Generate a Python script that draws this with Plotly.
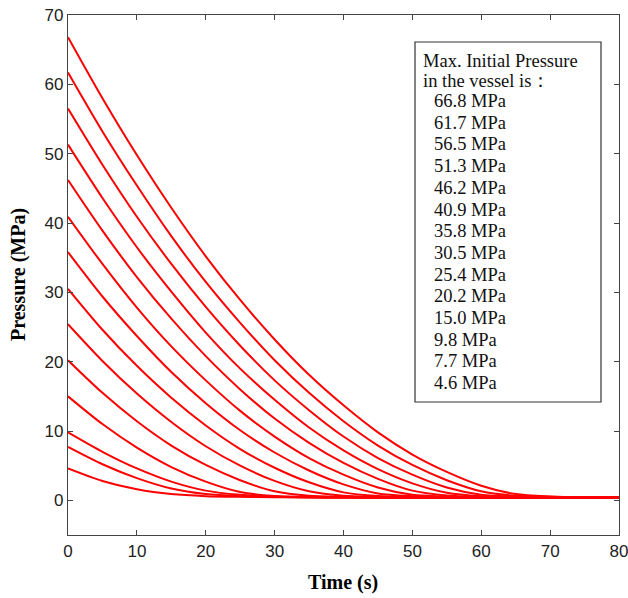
import plotly.graph_objects as go

# time samples (s)
time_s = [0, 5, 10, 15, 20, 25, 30, 35, 40, 45, 50, 55, 60, 65, 70, 75, 80]

# pressure curves (MPa)
p668 = [66.8, 58.0, 49.8, 42.2, 35.2, 28.9, 23.2, 18.1, 13.7, 9.8, 6.6, 4.1, 2.1, 0.9, 0.55, 0.42, 0.4]
p617 = [61.7, 53.2, 45.4, 38.1, 31.5, 25.6, 20.2, 15.5, 11.4, 7.9, 5.1, 2.9, 1.3, 0.65, 0.5, 0.42, 0.4]
p565 = [56.5, 48.4, 40.9, 34.1, 27.9, 22.3, 17.3, 13.0, 9.2, 6.1, 3.7, 1.85, 0.8, 0.52, 0.45, 0.4, 0.4]
p513 = [51.3, 43.6, 36.5, 30.1, 24.2, 19.0, 14.5, 10.5, 7.2, 4.5, 2.45, 1.1, 0.6, 0.47, 0.42, 0.4, 0.4]
p462 = [46.2, 38.9, 32.2, 26.2, 20.8, 16.0, 11.8, 8.3, 5.4, 3.1, 1.4, 0.7, 0.5, 0.43, 0.4, 0.4, 0.4]
p409 = [40.9, 34.1, 27.8, 22.2, 17.3, 12.9, 9.2, 6.1, 3.7, 1.85, 0.8, 0.55, 0.45, 0.4, 0.4, 0.4, 0.4]
p358 = [35.8, 29.4, 23.7, 18.5, 14.0, 10.1, 6.9, 4.3, 2.3, 1.0, 0.6, 0.47, 0.42, 0.4, 0.4, 0.4, 0.4]
p305 = [30.5, 24.6, 19.4, 14.8, 10.8, 7.4, 4.7, 2.6, 1.15, 0.62, 0.5, 0.43, 0.4, 0.4, 0.4, 0.4, 0.4]
p254 = [25.4, 20.1, 15.4, 11.3, 7.8, 5.0, 2.8, 1.3, 0.65, 0.5, 0.43, 0.4, 0.4, 0.4, 0.4, 0.4, 0.4]
p202 = [20.2, 15.5, 11.4, 7.9, 5.1, 2.9, 1.3, 0.65, 0.5, 0.43, 0.4, 0.4, 0.4, 0.4, 0.4, 0.4, 0.4]
p150 = [15.0, 11.0, 7.6, 4.8, 2.7, 1.2, 0.62, 0.5, 0.43, 0.4, 0.4, 0.4, 0.4, 0.4, 0.4, 0.4, 0.4]
p98 = [9.8, 7.0, 4.6, 2.7, 1.4, 0.8, 0.55, 0.45, 0.4, 0.4, 0.4, 0.4, 0.4, 0.4, 0.4, 0.4, 0.4]
p77 = [7.7, 5.2, 3.2, 1.7, 0.9, 0.6, 0.5, 0.43, 0.4, 0.4, 0.4, 0.4, 0.4, 0.4, 0.4, 0.4, 0.4]
p46 = [4.6, 2.8, 1.6, 0.9, 0.6, 0.5, 0.45, 0.42, 0.4, 0.4, 0.4, 0.4, 0.4, 0.4, 0.4, 0.4, 0.4]

curves = [p668, p617, p565, p513, p462, p409, p358, p305, p254, p202, p150, p98, p77, p46]

x_title = "Time (s)"
y_title = "Pressure (MPa)"
legend_header = ["Max. Initial Pressure", "in the vessel is："]
legend_items = ["66.8 MPa", "61.7 MPa", "56.5 MPa", "51.3 MPa", "46.2 MPa", "40.9 MPa", "35.8 MPa",
                "30.5 MPa", "25.4 MPa", "20.2 MPa", "15.0 MPa", "9.8 MPa", "7.7 MPa", "4.6 MPa"]

fig = go.Figure()
for vals in curves:
    fig.add_trace(go.Scatter(x=time_s, y=vals, mode="lines",
                             line=dict(color="#ff0000", width=2, shape="spline", smoothing=0.8),
                             showlegend=False, hoverinfo="skip"))

# plot area in pixels
L, R, T, B = 68, 619, 15, 535
W, H = 628, 598

def px(x):
    return (x - L) / (R - L)

def py(y):
    return (B - y) / (B - T)

serif = "Liberation Serif, Times New Roman, serif"
sans = "Liberation Sans, Arial, sans-serif"

annotations = []
hdr_y = [61, 81]
for txt, yy in zip(legend_header, hdr_y):
    annotations.append(dict(text=txt, x=px(421), y=py(yy), xref="paper", yref="paper",
                            xanchor="left", yanchor="middle", showarrow=False,
                            font=dict(family=serif, size=18.5, color="#111")))
for i, txt in enumerate(legend_items):
    annotations.append(dict(text=txt, x=px(432), y=py(101 + 21.7 * i), xref="paper", yref="paper",
                            xanchor="left", yanchor="middle", showarrow=False,
                            font=dict(family=serif, size=18.5, color="#111")))

# axis titles
annotations.append(dict(text="<b>%s</b>" % x_title, x=px(343), y=py(582), xref="paper", yref="paper",
                        xanchor="center", yanchor="middle", showarrow=False,
                        font=dict(family=serif, size=20, color="#000")))
annotations.append(dict(text="<b>%s</b>" % y_title, x=px(18), y=py(275), xref="paper", yref="paper",
                        xanchor="center", yanchor="middle", showarrow=False, textangle=-90,
                        font=dict(family=serif, size=20, color="#000")))

fig.update_layout(
    width=W, height=H,
    margin=dict(l=L, r=W - R, t=T, b=H - B),
    paper_bgcolor="white", plot_bgcolor="white",
    annotations=annotations,
    shapes=[dict(type="rect", xref="paper", yref="paper",
                 x0=px(415), x1=px(601), y0=py(402), y1=py(42),
                 line=dict(color="#333", width=1.2), fillcolor="white", layer="above")],
)
fig.update_xaxes(range=[0, 80], dtick=10, ticks="inside", ticklen=5, tickcolor="#444",
                 showline=True, linecolor="#444", linewidth=1.2, mirror="ticks",
                 showgrid=False, zeroline=False, automargin=False, ticklabeloverflow="allow",
                 tickfont=dict(family=sans, size=17, color="#222"))
fig.update_yaxes(range=[-5, 70], dtick=10, ticks="inside", ticklen=5, tickcolor="#444",
                 showline=True, linecolor="#444", linewidth=1.2, mirror="ticks",
                 showgrid=False, zeroline=False, automargin=False, ticklabeloverflow="allow",
                 tickfont=dict(family=sans, size=17, color="#222"))

fig.write_html("out.html", config={"displayModeBar": False},
               post_script="document.body.style.margin='0';document.body.style.overflow='hidden';")
